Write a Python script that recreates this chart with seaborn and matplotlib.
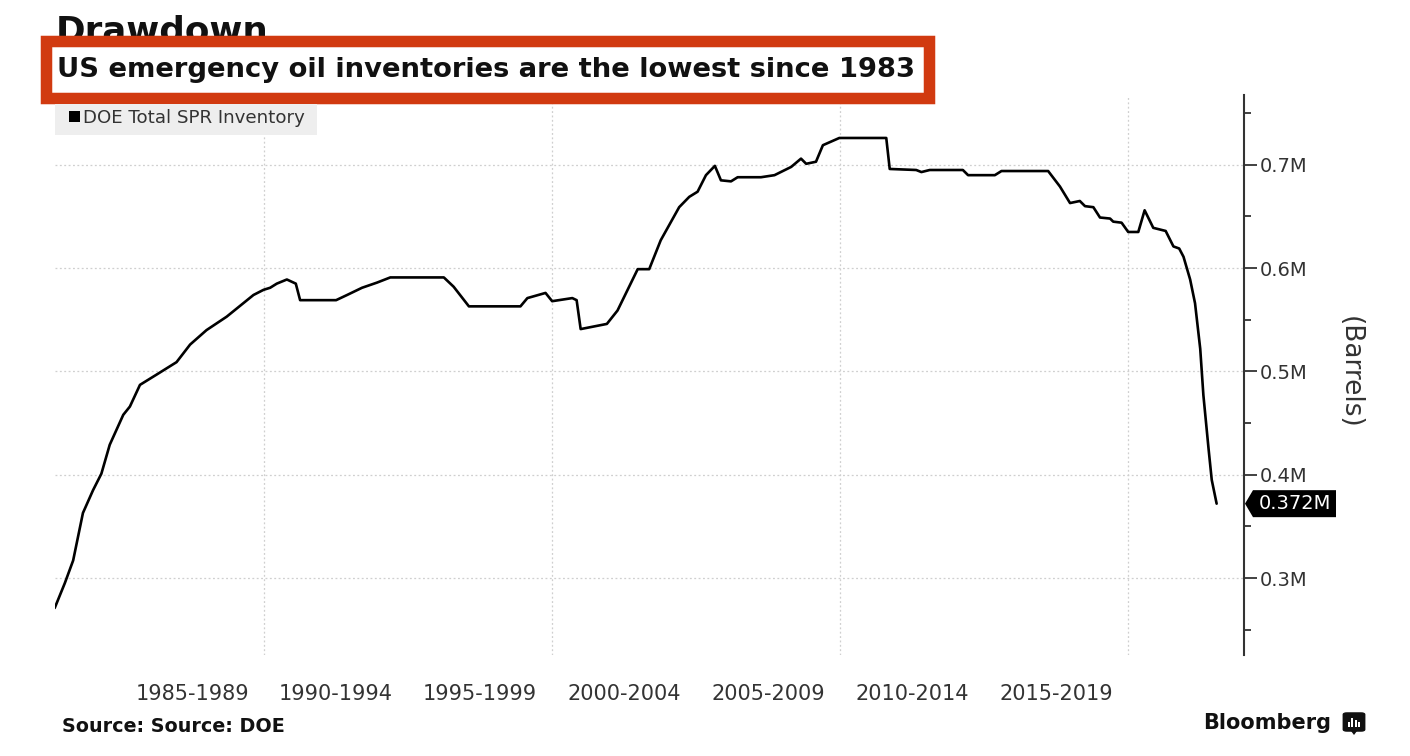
import numpy as np
import pandas as pd
import matplotlib
matplotlib.use("Agg")
import matplotlib.pyplot as plt
import seaborn as sns
from matplotlib.patches import Rectangle, Polygon, FancyBboxPatch
from matplotlib.ticker import FuncFormatter, FixedLocator

# ---------------- data ----------------
years = [1982.73, 1983.08, 1983.37, 1983.71, 1984.06, 1984.35, 1984.64, 1985.11,
         1985.34, 1985.69, 1986.27, 1986.96, 1987.43, 1988.00, 1988.70, 1989.63,
         1989.98, 1990.21, 1990.44, 1990.79, 1991.10, 1991.25, 1992.50, 1992.88,
         1993.40, 1993.92, 1994.38, 1996.24, 1996.58, 1997.11, 1998.90, 1999.14,
         1999.77, 2000.00, 2000.70, 2000.85, 2000.99, 2001.90, 2002.27, 2002.97,
         2003.37, 2003.77, 2004.41, 2004.76, 2005.05, 2005.34, 2005.65, 2005.86,
         2006.21, 2006.44, 2007.25, 2007.72, 2008.30, 2008.64, 2008.82, 2009.16,
         2009.40, 2009.97, 2011.60, 2011.72, 2012.64, 2012.82, 2013.11, 2014.26,
         2014.44, 2015.37, 2015.60, 2017.22, 2017.63, 2017.98, 2018.32, 2018.50,
         2018.79, 2019.02, 2019.37, 2019.48, 2019.77, 2020.00, 2020.35, 2020.57,
         2020.87, 2021.30, 2021.57, 2021.77, 2021.92, 2022.15, 2022.32, 2022.50,
         2022.61, 2022.79, 2022.90, 2023.07]
inventory = [0.271, 0.295, 0.317, 0.363, 0.385, 0.401, 0.429, 0.458,
             0.466, 0.487, 0.497, 0.509, 0.526, 0.540, 0.553, 0.574,
             0.579, 0.581, 0.585, 0.589, 0.585, 0.569, 0.569, 0.574,
             0.581, 0.586, 0.591, 0.591, 0.582, 0.563, 0.563, 0.571,
             0.576, 0.568, 0.571, 0.569, 0.541, 0.546, 0.559, 0.599,
             0.599, 0.627, 0.659, 0.669, 0.674, 0.690, 0.699, 0.685,
             0.684, 0.688, 0.688, 0.690, 0.698, 0.706, 0.701, 0.703,
             0.719, 0.726, 0.726, 0.696, 0.695, 0.693, 0.695, 0.695,
             0.690, 0.690, 0.694, 0.694, 0.679, 0.663, 0.665, 0.660,
             0.659, 0.649, 0.648, 0.645, 0.644, 0.635, 0.635, 0.656,
             0.639, 0.636, 0.621, 0.619, 0.611, 0.589, 0.566, 0.522,
             0.477, 0.425, 0.395, 0.372]

period_labels = ["1985-1989", "1990-1994", "1995-1999", "2000-2004",
                 "2005-2009", "2010-2014", "2015-2019"]
period_centers = [1987.5, 1992.5, 1997.5, 2002.5, 2007.5, 2012.5, 2017.5]
decade_lines = [1990, 2000, 2010, 2020]
y_major = [0.3, 0.4, 0.5, 0.6, 0.7]
y_minor = [0.25, 0.35, 0.45, 0.55, 0.65, 0.75]
last_label = "0.372M"
series_name = "DOE Total SPR Inventory"
title_text = "Drawdown"
subtitle_text = "US emergency oil inventories are the lowest since 1983"
source_text = "Source: Source: DOE"
y_title = "(Barrels)"

# ---------------- style ----------------
sns.set_theme(style="white")
plt.rcParams['font.family'] = ['DejaVu Sans']

W, H = 1410, 756
fig = plt.figure(figsize=(W / 100, H / 100), dpi=100)
fig.patch.set_facecolor("white")

def fx(px):
    return px / W

def fy(py):
    return 1 - py / H

ax_l, ax_r, ax_t, ax_b = 55, 1244, 95, 655
ax = fig.add_axes([fx(ax_l), fy(ax_b), (ax_r - ax_l) / W, (ax_b - ax_t) / H])
ax.set_facecolor("white")

df = pd.DataFrame({"year": years, "inventory": inventory})
sns.lineplot(data=df, x="year", y="inventory", ax=ax, color="black",
             linewidth=1.9, estimator=None, sort=False, legend=False, zorder=5)

ax.set_xlim(1982.74, 2024.02)
ax.set_ylim(0.2255, 0.7676)

# y axis on the right
ax.yaxis.tick_right()
ax.yaxis.set_label_position("right")
ax.set_yticks(y_major)
ax.yaxis.set_minor_locator(FixedLocator(y_minor))
ax.yaxis.set_major_formatter(FuncFormatter(lambda v, p: f"{v:.1f}M"))
ax.tick_params(axis="y", which="major", direction="out", length=9, width=1.3,
               color="#333333", labelsize=14, labelcolor="#333333", pad=2,
               right=True, left=False)
ax.tick_params(axis="y", which="minor", direction="out", length=5, width=1.3,
               color="#333333", right=True, left=False)

# x axis
ax.set_xticks(period_centers)
ax.set_xticklabels(period_labels)
ax.xaxis.set_minor_locator(FixedLocator(decade_lines))
ax.tick_params(axis="x", which="both", length=0, labelsize=15, pad=21,
               labelcolor="#333333")

ax.grid(False)
ax.grid(which="major", axis="y", linestyle=(0, (1.5, 2)), color="#CFCFCF", linewidth=0.9)
ax.grid(which="minor", axis="x", linestyle=(0, (1.5, 2)), color="#CFCFCF", linewidth=0.9)

for s in ["top", "left", "bottom"]:
    ax.spines[s].set_visible(False)
ax.spines["right"].set_color("#333333")
ax.spines["right"].set_linewidth(1.5)

ax.set_xlabel("")
ax.set_ylabel(y_title, rotation=270, fontsize=19, color="#333333",
              ha="center", va="center")
ax.yaxis.set_label_coords((1350 - ax_l) / (ax_r - ax_l), (ax_b - 372) / (ax_b - ax_t))

# ---------------- header ----------------
t_draw = fig.text(fx(56), fy(42), title_text, fontsize=26, fontweight="bold",
                  color="#111111", ha="left", va="baseline", zorder=1)

red = "#D13A10"
bw = 11.5
fig.add_artist(Rectangle((fx(40 + bw / 2), fy(104 - bw / 2)),
                         (935 - 40 - bw) / W, (104 - 35 - bw) / H,
                         transform=fig.transFigure, facecolor="white",
                         edgecolor=red, linewidth=bw * 0.72, zorder=2))
t_sub = fig.text(fx(57), fy(77), subtitle_text, fontsize=22, fontweight="bold",
                 color="#111111", ha="left", va="baseline", zorder=3)

# legend box
fig.add_artist(Rectangle((fx(55), fy(135)), (317 - 55) / W, (135 - 104) / H,
                         transform=fig.transFigure, facecolor="#EEEEEE",
                         edgecolor="none", zorder=2))
fig.add_artist(Rectangle((fx(69), fy(122)), 11 / W, 11 / H,
                         transform=fig.transFigure, facecolor="black",
                         edgecolor="none", zorder=3))
t_leg = fig.text(fx(83), fy(123), series_name, fontsize=12, color="#333333",
                 ha="left", va="baseline", zorder=3)

# footer
t_src = fig.text(fx(62), fy(732), source_text, fontsize=12.5, fontweight="bold",
                 color="#111111", ha="left", va="baseline")
t_bb = fig.text(fx(1331), fy(729), "Bloomberg", fontsize=16, fontweight="bold",
                color="#111111", ha="right", va="baseline")
fig.add_artist(FancyBboxPatch((fx(1344), fy(731)), 20 / W, 18 / H,
                              boxstyle="round,pad=0.001,rounding_size=0.003",
                              transform=fig.transFigure, facecolor="#111111",
                              edgecolor="none"))
fig.add_artist(Polygon([(fx(1351), fy(731)), (fx(1357), fy(731)), (fx(1354), fy(735))],
                       closed=True, transform=fig.transFigure,
                       facecolor="#111111", edgecolor="none"))
for i, hgt in enumerate([5, 9, 7, 5]):
    fig.add_artist(Rectangle((fx(1347.5 + i * 3.5), fy(727)), 2 / W, hgt / H,
                             transform=fig.transFigure, facecolor="white",
                             edgecolor="none", zorder=3))


def fit_width(t, target):
    fig.canvas.draw()
    r = fig.canvas.get_renderer()
    w = t.get_window_extent(r).width
    t.set_fontsize(t.get_fontsize() * target / w)


fit_width(t_draw, 213)
fit_width(t_sub, 858)
fit_width(t_leg, 222)
fit_width(t_src, 223)
fit_width(t_bb, 128)

# ---------------- last value tag ----------------
fig.canvas.draw()
x1 = ax.bbox.x1
yp = ax.transData.transform((years[-1], inventory[-1]))[1]
hh = 13.5
tag = Polygon([(x1 + 1, yp), (x1 + 9, yp + hh), (x1 + 92, yp + hh),
               (x1 + 92, yp - hh), (x1 + 9, yp - hh)], closed=True,
              transform=None, facecolor="black", edgecolor="none", zorder=10)
fig.add_artist(tag)
tt = fig.text(0, 0, last_label, fontsize=14, color="white", ha="center",
              va="center", zorder=11)
tt.set_transform(matplotlib.transforms.IdentityTransform())
tt.set_position((x1 + 51, yp))

fig.savefig("out.png", dpi=100, facecolor="white")
